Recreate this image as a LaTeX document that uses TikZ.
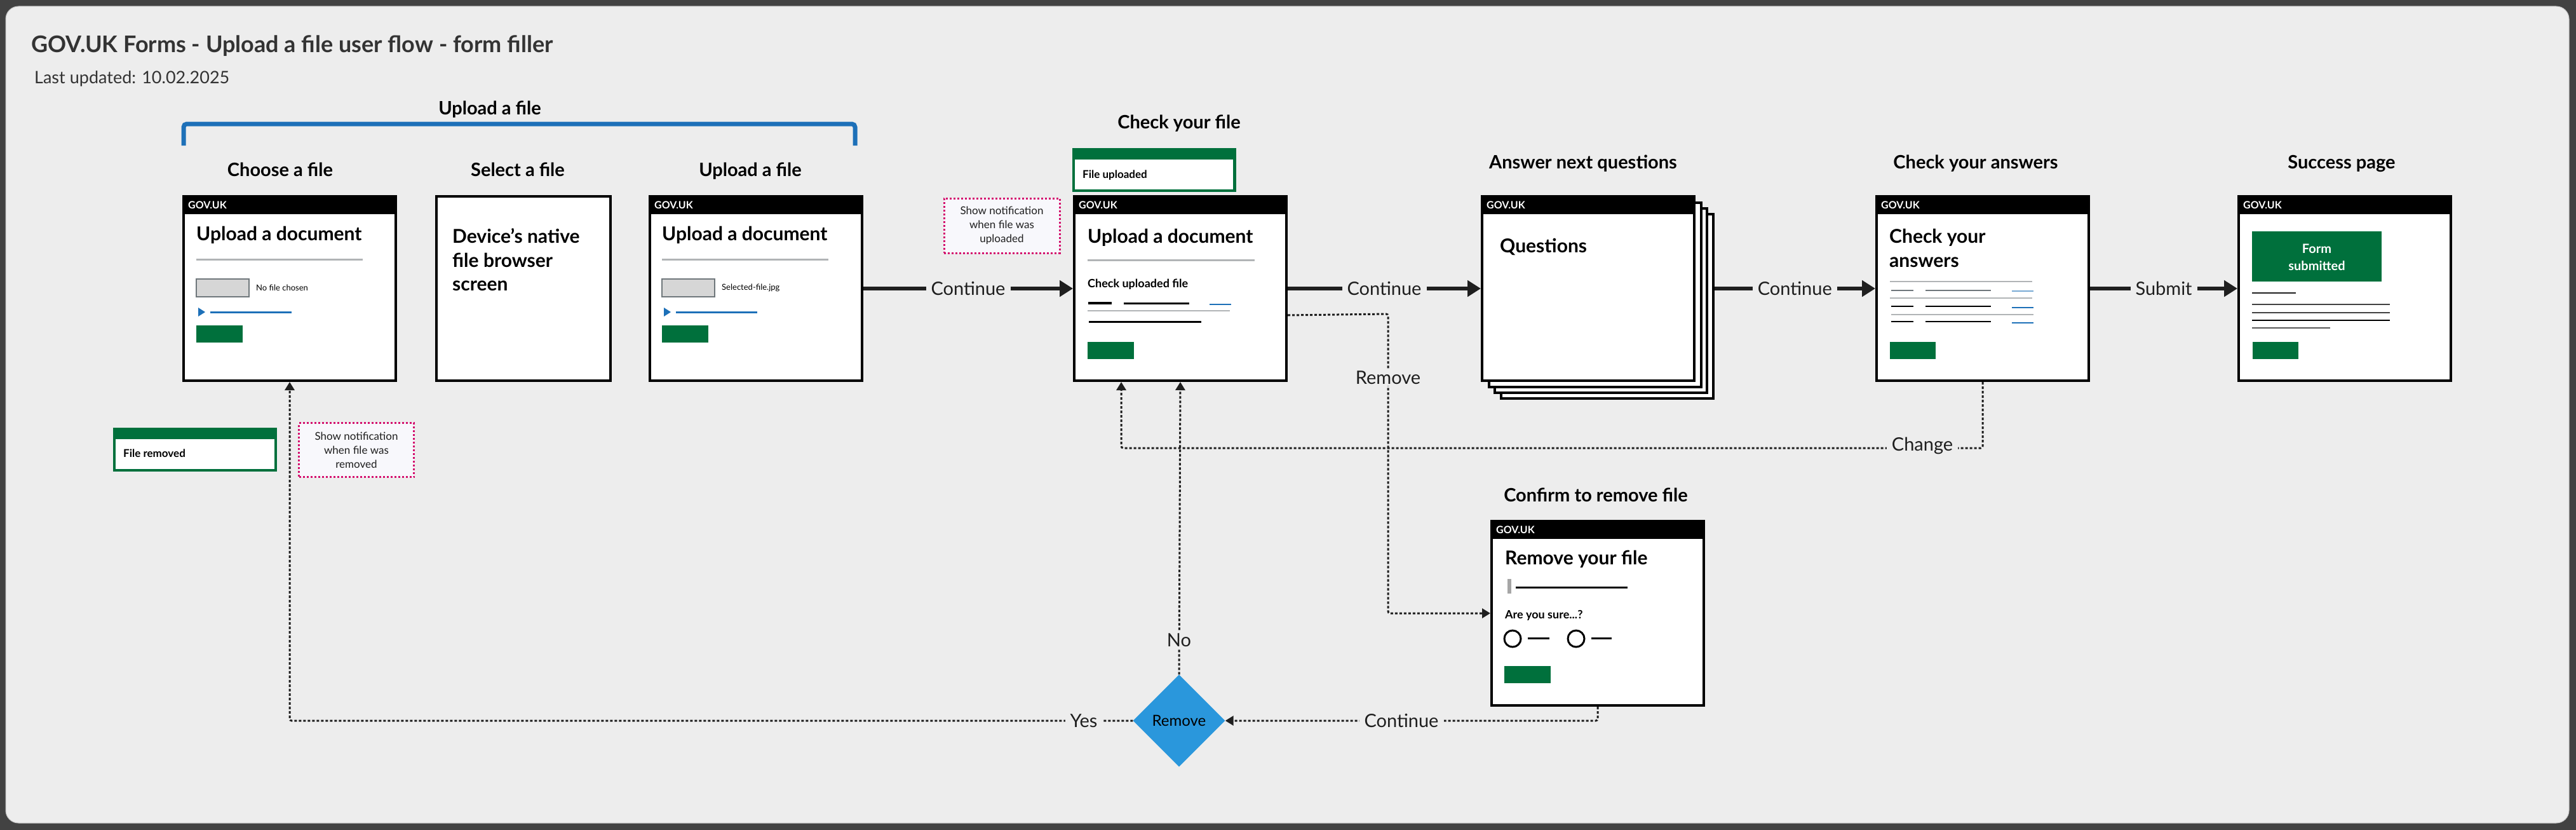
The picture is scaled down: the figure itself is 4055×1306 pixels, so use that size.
\documentclass[tikz,border=0pt]{standalone}
\usepackage{fontspec}
\setmainfont{Lato}
\usetikzlibrary{arrows.meta,shapes.geometric,calc}
\definecolor{bgdark}{HTML}{424242}
\definecolor{panel}{HTML}{EDEDED}
\definecolor{paneledge}{HTML}{C4C4C4}
\definecolor{govgreen}{HTML}{00703C}
\definecolor{govblue}{HTML}{1D70B8}
\definecolor{ruleg}{HTML}{B1B4B6}
\definecolor{ink}{HTML}{1F1F1F}
\definecolor{titlec}{HTML}{333333}
\definecolor{notepink}{HTML}{D4106E}
\definecolor{notefill}{HTML}{F8F8FC}
\definecolor{diablue}{HTML}{2A97DC}
\definecolor{inputg}{HTML}{D6D6D6}
\definecolor{midgrey}{HTML}{6F777B}
\newcommand{\fsz}[2]{\fontsize{#1}{#2}\selectfont}
\tikzset{
  x=1pt, y=-1pt,
  screen/.style={draw=black, line width=4pt, fill=white, anchor=north west, inner sep=0pt, minimum width=334pt, minimum height=290pt},
  stackpage/.style={draw=black, line width=3.5pt, fill=white, anchor=north west, inner sep=0pt, minimum width=334pt, minimum height=290pt},
  govuk/.style={text=white, font=\fsz{16}{19}\bfseries, anchor=base west, inner sep=0pt},
  ptitle/.style={font=\fsz{30}{36}\bfseries, anchor=base west, inner sep=0pt, text=black},
  heading/.style={font=\fsz{29}{34}\bfseries, anchor=base, inner sep=0pt, text=black},
  smalltxt/.style={font=\fsz{13}{16}, anchor=west, inner sep=0pt, text=black},
  smallbold/.style={font=\fsz{18}{22}\bfseries, anchor=base west, inner sep=0pt, text=black},
  greyrule/.style={draw=ruleg, line width=3pt},
  thinrule/.style={draw=ruleg, line width=1.5pt},
  bar/.style={draw=black, line width=3pt},
  greybar/.style={draw=midgrey, line width=2.5pt},
  linkbar/.style={draw=govblue, line width=2.5pt},
  gbutton/.style={fill=govgreen},
  flow/.style={draw=ink, line width=5.5pt, -{Triangle[length=21pt,width=25pt]}},
  dflow/.style={draw=ink, line width=3pt, dash pattern=on 4pt off 3pt, rounded corners=3pt, -{Triangle[length=13pt,width=15pt]}},
  elabel/.style={font=\fsz{29}{34}, fill=panel, inner xsep=8pt, inner ysep=3pt, text=ink},
  note/.style={draw=notepink, line width=3pt, dash pattern=on 3pt off 3pt, fill=notefill, align=center, font=\fsz{17}{22}, inner sep=0pt, text=ink},
  banner/.style={fill=govgreen, anchor=north west, inner sep=0pt, minimum width=258pt, minimum height=69pt},
  bannertxt/.style={font=\fsz{17}{20}\bfseries, anchor=base west, inner sep=0pt, text=black},
}
% screen with GOV.UK header: name, x, y
\newcommand{\govscreen}[3]{%
  \node[screen] (#1) at (#2,#3) {};
  \fill[black] (#1.north west) rectangle ([yshift=-30pt]#1.north east);
  \node[govuk] (#1-gov) at ([xshift=9pt,yshift=-21pt]#1.north west) {GOV.UK};
}
% upload page body: name prefix, file text
\newcommand{\uploadbody}[2]{%
  \node[ptitle] (#1-t) at (309,378) {Upload a document};
  \draw[greyrule] (309,408) -- (571,408);
  \draw[draw=midgrey, fill=inputg, line width=1.5pt] (309,439) rectangle (392,467);
  \node[smalltxt] (#1-f) at (403,453) {#2};
  \fill[govblue] (312,484) -- (323,491) -- (312,498) -- cycle;
  \draw[govblue, line width=3pt] (331,491) -- (459,491);
  \fill[gbutton] (309,512) rectangle (382,539);
}
\begin{document}
\begin{tikzpicture}
\useasboundingbox (0,0) rectangle (4055,1306);
\fill[bgdark] (0,0) rectangle (4055,1306);
\filldraw[fill=panel, draw=paneledge, line width=1pt, rounded corners=20pt] (9,10) rectangle (4044,1295);

% titles
\node[anchor=base west, inner sep=0pt, font=\fsz{36}{43}\bfseries, text=titlec] (title) at (49,82) {GOV.UK Forms - Upload a file user flow - form filler};
\node[anchor=base west, inner sep=0pt, font=\fsz{27}{32}, text=titlec] (updated) at (54,131) {Last updated: 10.02.2025};

% bracket
\draw[govblue, line width=7pt, rounded corners=5pt] (289,229) -- (289,195) -- (1346,195) -- (1346,229);
\node[heading] (hgroup) at (771,180) {Upload a file};

% headings
\node[heading] (h1) at (441,277) {Choose a file};
\node[heading] (h2) at (815,277) {Select a file};
\node[heading] (h3) at (1181,277) {Upload a file};
\node[heading] (h4) at (1856,202) {Check your file};
\node[heading] (h5) at (2492,265) {Answer next questions};
\node[heading] (h6) at (3110,265) {Check your answers};
\node[heading] (h7) at (3686,265) {Success page};
\node[heading] (h8) at (2512,789) {Confirm to remove file};

% screen 1
\govscreen{b1}{287}{307}
\uploadbody{b1}{No file chosen}

% screen 2
\node[screen, minimum width=274pt] (b2) at (685,307) {};
\node[ptitle] (b2a) at (712,382) {Device's native};
\node[ptitle] (b2b) at (712,420) {file browser};
\node[ptitle] (b2c) at (712,457) {screen};

% screen 3
\govscreen{b3}{1021}{307}
\begin{scope}[xshift=733pt]
\uploadbody{b3}{Selected-file.jpg}
\end{scope}

% check your file
\node[banner] (bup) at (1688,233) {};
\fill[white] (1692,251) rectangle (1941,298);
\node[bannertxt] (bupt) at (1704,280) {File uploaded};
\node[note, minimum width=182pt, minimum height=86pt] (n1) at (1577,355) {Show notification\\when file was\\uploaded};
\govscreen{chk}{1689}{307}
\node[ptitle] (chk-t) at (1712,382) {Upload a document};
\draw[greyrule] (1712,409) -- (1975,409);
\node[smallbold] (chk-s) at (1712,452) {Check uploaded file};
\draw[draw=black, line width=4pt] (1713,477) -- (1750,477);
\draw[bar] (1769,477) -- (1872,477);
\draw[linkbar] (1904,479) -- (1938,479);
\draw[thinrule] (1712,489) -- (1936,489);
\draw[bar] (1714,506) -- (1891,506);
\fill[gbutton] (1712,538) rectangle (1785,565);

% questions stack
\node[stackpage] (q4) at (2361,335) {};
\node[stackpage] (q3) at (2351,326) {};
\node[stackpage] (q2) at (2342,317) {};
\govscreen{q}{2331}{307}
\node[ptitle] (q-t) at (2361,397) {Questions};

% check your answers
\govscreen{cya}{2952}{307}
\node[ptitle] (cya-t1) at (2974,382) {Check your};
\node[ptitle] (cya-t2) at (2974,420) {answers};
\draw[thinrule] (2975,443) -- (3199,443);
\draw[greybar] (2977,457) -- (3012,457);
\draw[greybar] (3031,457) -- (3134,457);
\draw[draw=govblue!60, line width=2.5pt] (3167,458) -- (3201,458);
\draw[thinrule] (2975,469) -- (3199,469);
\draw[draw=black, line width=2pt] (2977,482) -- (3012,482);
\draw[draw=black, line width=2pt] (3031,482) -- (3134,482);
\draw[linkbar] (3167,484) -- (3201,484);
\draw[thinrule] (2977,495) -- (3201,495);
\draw[draw=black, line width=2pt] (2977,506) -- (3012,506);
\draw[draw=black, line width=2pt] (3031,506) -- (3134,506);
\draw[linkbar] (3167,508) -- (3201,508);
\fill[gbutton] (2975,538) rectangle (3047,565);

% success
\govscreen{suc}{3522}{307}
\fill[govgreen] (3545,364) rectangle (3749,443);
\node[align=center, text=white, font=\fsz{20}{27}\bfseries, inner sep=0pt] (suc-p) at (3647,405) {Form\\submitted};
\draw[draw=ink, line width=2pt] (3545,461) -- (3614,461);
\draw[draw=ink!85, line width=2.5pt] (3545,479) -- (3762,479);
\draw[draw=ink!85, line width=2.5pt] (3545,492) -- (3762,492);
\draw[draw=black, line width=2.5pt] (3545,504) -- (3762,504);
\draw[draw=ink!75, line width=2.5pt] (3545,516) -- (3668,516);
\fill[gbutton] (3546,538) rectangle (3618,565);

% confirm remove
\govscreen{conf}{2346}{818}
\node[ptitle] (conf-t) at (2369,888) {Remove your file};
\fill[gray!70] (2373,911) rectangle (2379,934);
\draw[bar] (2386,924) -- (2562,924);
\node[smallbold] (conf-q) at (2369,973) {Are you sure...?};
\draw[draw=black, line width=3pt] (2381,1005) circle[radius=13pt];
\draw[bar] (2405,1004) -- (2439,1004);
\draw[draw=black, line width=3pt] (2481,1005) circle[radius=13pt];
\draw[bar] (2505,1004) -- (2537,1004);
\fill[gbutton] (2368,1048) rectangle (2441,1075);

% file removed banner + note
\node[banner] (brm) at (178,673) {};
\fill[white] (182,691) rectangle (432,738);
\node[bannertxt] (brmt) at (194,719) {File removed};
\node[note, minimum width=181pt, minimum height=85pt] (n2) at (561,708) {Show notification\\when file was\\removed};

% decision
\node[diamond, fill=diablue, minimum width=145pt, minimum height=145pt, inner sep=0pt, font=\fsz{24}{28}, text=black] (dia) at (1856,1134) {Remove};

% solid flows
\draw[flow] (b3.east) -- node[elabel] (l1) {Continue} (chk.west);
\draw[flow] (chk.east) -- node[elabel] (l2) {Continue} (q.west);
\draw[flow] (q.east -| q4.east) -- node[elabel] (l3) {Continue} (cya.west);
\draw[flow] (cya.east) -- node[elabel] (l4) {Submit} (suc.west);

% dotted flows
\coordinate (rmvc) at (2185,494);
\draw[dflow] ([yshift=-42pt]chk.east) -- (rmvc) |- (conf.west);
\node[elabel] (l5) at (2185,594) {Remove};
\draw[dflow] (cya.south) -- ++(0,104) -| ([xshift=-93pt]chk.south);
\node[elabel] (l6) at (3026,701) {Change};
\draw[dflow] (conf.south) |- (dia.east);
\node[elabel] (l7) at (2206,1134) {Continue};
\draw[dflow] (dia.north) -- (chk.south);
\node[elabel] (l8) at (1856,1007) {No};
\draw[dflow] (dia.west) -| (b1.south);
\node[elabel] (l9) at (1706,1134) {Yes};
\end{tikzpicture}
\end{document}
